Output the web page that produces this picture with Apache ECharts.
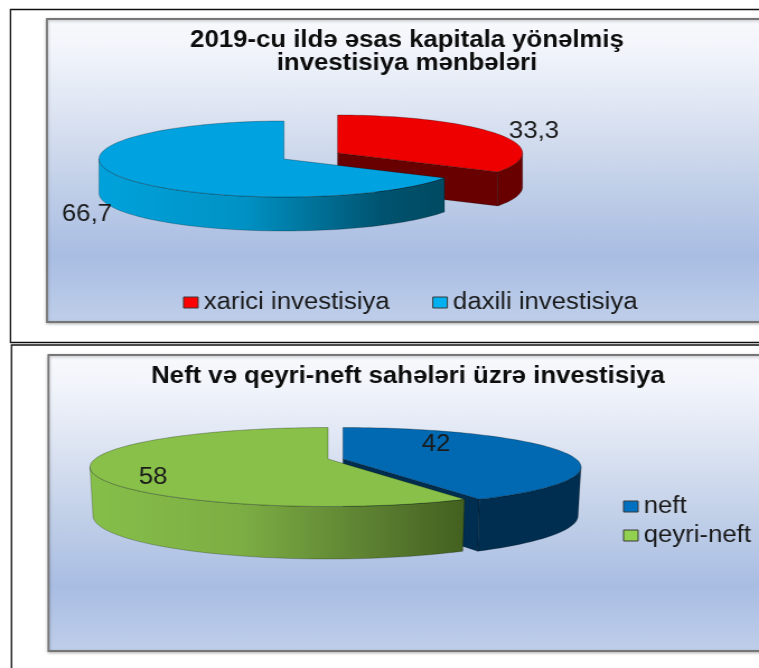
<!DOCTYPE html>
<html>
<head>
<meta charset="utf-8">
<style>
html,body{margin:0;padding:0;background:#fff;overflow:hidden;width:759px;height:668px}
#c{width:678px;height:668px;transform-origin:0 0;transform:scaleX(1.1195);filter:blur(0.35px)}
</style>
<script src="https://cdn.jsdelivr.net/npm/echarts@6/dist/echarts.min.js"></script>
</head>
<body>
<div id="c"></div>
<script>
// ---- data ----
var sourceNames = ['xarici investisiya', 'daxili investisiya'];
var sourceValues = [33.3, 66.7];
var sectorNames = ['neft', 'qeyri-neft'];
var sectorValues = [42, 58];
var sourceTitle = '2019-cu ildə əsas kapitala yönəlmiş\ninvestisiya mənbələri';
var sectorTitle = 'Neft və qeyri-neft sahələri üzrə investisiya';

// ---- layout (page pixels; the picture is stretched horizontally by SX) ----
var SX = 1.1195;
function X(x){ return x / SX; }

var pieA = {
  total: 100, rx: 185, ry: 38, e: 0,
  depth: 34, rxB: 185, ryB: 38, apexDrop: 0,
  slices: [
    {cx: 337.5, cy: 153, top: '#ee0000', legend: '#ff0000', wall: ['#680000', '#680000'], cut: '#680000', lab: [534, 132]},
    {cx: 284, cy: 159, top: '#00a2df', legend: '#00b0f0',
     wall: [[0, '#00a2dc'], [0.42, '#0092c4'], [0.82, '#00536f'], [1, '#004a62']], cut: null, lab: [87, 215]}
  ]
};
var pieB = {
  total: 100, rx: 238, ry: 39.5, e: 0.2025, apexDrop: 8,
  depth: 48, rxB: 235, ryB: 44,
  slices: [
    {cx: 343, cy: 467, top: '#0069b2', legend: '#0070c0', wall: ['#002e50', '#002e50'], cut: '#002e50', lab: [436, 445]},
    {cx: 328, cy: 467, top: '#88c04a', legend: '#92d050',
     wall: [[0, '#86bf4a'], [0.4, '#7dae44'], [0.78, '#597c30'], [1, '#43601f']], cut: null, lab: [153, 478]}
  ]
};

// projection of a point of the unit disc onto a (perspective) ellipse
function project(u, v, cx, cy, rx, ry, e, drop) {
  var w = 1 - e * v;
  var c = rx * Math.sqrt(1 - e * e);
  var a = ry * (1 - e) + drop;            // v=1 lands on the lowest point of the ellipse
  return [X(cx + c * u / w), cy + (a * v - drop) / w];
}
function arcPoints(t0, t1, s, pie, lower) {
  var pts = [], n = Math.max(2, Math.ceil((t1 - t0) / 2));
  for (var i = 0; i <= n; i++) {
    var t = (t0 + (t1 - t0) * i / n) * Math.PI / 180;
    pts.push(lower ? project(Math.sin(t), -Math.cos(t), s.cx, s.cy + pie.depth, pie.rxB, pie.ryB, pie.e, pie.apexDrop)
                   : project(Math.sin(t), -Math.cos(t), s.cx, s.cy, pie.rx, pie.ry, pie.e, pie.apexDrop));
  }
  return pts;
}
function gradient(w) {
  if (typeof w[0] === 'string') return w[0];
  return new echarts.graphic.LinearGradient(0, 0, 1, 0, w.map(function (p) { return {offset: p[0], color: p[1]}; }));
}
function fmt(v){ return String(v).replace('.', ','); }
var EDGE = 'rgba(0,0,0,0.38)';

function sliceSeries(name, values, index, pie) {
  var s = pie.slices[index];
  var before = 0;
  for (var i = 0; i < index; i++) before += values[i];
  return {
    type: 'custom', name: name, coordinateSystem: 'none', silent: true, animation: false,
    itemStyle: {color: s.legend},
    data: [[values[index]]],
    renderItem: function (params, api) {
      var v = api.value(0);
      var t0 = before / pie.total * 360, t1 = (before + v) / pie.total * 360;
      var kids = [];
      var apexT = project(0, 0, s.cx, s.cy, pie.rx, pie.ry, pie.e, pie.apexDrop);
      var apexB = project(0, 0, s.cx, s.cy + pie.depth, pie.rxB, pie.ryB, pie.e, pie.apexDrop);
      if (s.cut) {
        var ct = arcPoints(t1, t1, s, pie, false)[0], cb = arcPoints(t1, t1, s, pie, true)[0];
        kids.push({type: 'polygon', shape: {points: [apexT, ct, cb, apexB]}, style: {fill: s.cut, stroke: EDGE, lineWidth: 0.6}});
      }
      // the outer wall is visible between the two silhouette points of the ellipse
      var sil = Math.acos(-pie.e) * 180 / Math.PI;
      var a = Math.max(t0, sil), b = Math.min(t1, 360 - sil);
      if (b > a) {
        var up = arcPoints(a, b, s, pie, false), lo = arcPoints(a, b, s, pie, true).reverse();
        kids.push({type: 'polygon', shape: {points: up.concat(lo)}, style: {fill: gradient(s.wall), stroke: EDGE, lineWidth: 0.6}});
      }
      var top = [apexT].concat(arcPoints(t0, t1, s, pie, false));
      kids.push({type: 'polygon', shape: {points: top}, style: {fill: s.top, stroke: EDGE, lineWidth: 0.7}});
      kids.push({type: 'text', style: {text: fmt(v), x: X(s.lab[0]), y: s.lab[1], fill: '#1a1a1a',
        font: '23px "Liberation Sans"', align: 'center', verticalAlign: 'middle'}});
      return {type: 'group', children: kids};
    }
  };
}

var panelFill = function () {
  return new echarts.graphic.LinearGradient(0, 0, 0, 1, [
    {offset: 0, color: '#f8f9fd'}, {offset: 0.1, color: '#f2f5fb'}, {offset: 0.3, color: '#dee5f3'},
    {offset: 0.52, color: '#c4d2e9'}, {offset: 0.78, color: '#a9bde3'}, {offset: 1, color: '#bfcfea'}]);
};
function panel(x, y, w, h) {
  return {type: 'rect', z: -10, shape: {x: X(x), y: y, width: X(w), height: h},
    style: {fill: panelFill(), stroke: '#767676', lineWidth: 1.8, shadowBlur: 3, shadowColor: 'rgba(0,0,0,0.25)', shadowOffsetY: 1}};
}
function frame(x, y, w, h) {
  return {type: 'rect', z: -20, shape: {x: X(x), y: y, width: X(w), height: h},
    style: {fill: '#fff', stroke: '#111', lineWidth: 1.3}};
}

var chart = echarts.init(document.getElementById('c'), null, {renderer: 'canvas'});
var titleFont = {fontFamily: 'Liberation Sans', fontWeight: 'bold', fontSize: 23, lineHeight: 23, color: '#0d0d0d', align: 'center'};
var legendText = {fontFamily: 'Liberation Sans', fontSize: 23, color: '#1a1a1a'};
var legendIcon = {borderColor: '#3a3a3a', borderWidth: 1};

chart.setOption({
  animation: false,
  backgroundColor: '#fff',
  graphic: {elements: [
    frame(10.5, 9.5, 800, 333),
    frame(11.5, 345, 800, 340),
    panel(47, 19, 780, 303),
    panel(48.5, 355, 780, 296)
  ]},
  title: [
    {text: sourceTitle, left: X(407), top: 29, textAlign: 'center', textStyle: titleFont, padding: 0},
    {text: sectorTitle, left: X(408), top: 365, textAlign: 'center', textStyle: titleFont, padding: 0}
  ],
  legend: [
    {data: sourceNames, orient: 'horizontal', left: X(183), top: 291, itemWidth: 13, itemHeight: 11, itemGap: 38, padding: 0,
     icon: 'rect', itemStyle: legendIcon, textStyle: legendText, selectedMode: false},
    {data: sectorNames, orient: 'vertical', left: X(623), top: 495, itemWidth: 13, itemHeight: 11, itemGap: 6, padding: 0,
     icon: 'rect', itemStyle: legendIcon, textStyle: legendText, selectedMode: false}
  ],
  series: [
    sliceSeries(sourceNames[0], sourceValues, 0, pieA),
    sliceSeries(sourceNames[1], sourceValues, 1, pieA),
    sliceSeries(sectorNames[0], sectorValues, 0, pieB),
    sliceSeries(sectorNames[1], sectorValues, 1, pieB)
  ]
});
</script>
</body>
</html>
